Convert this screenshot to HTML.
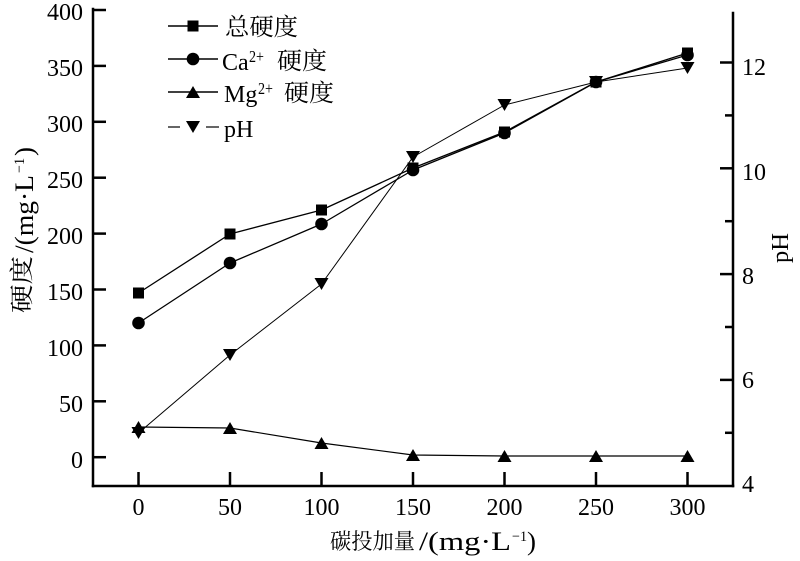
<!DOCTYPE html>
<html>
<head>
<meta charset="utf-8">
<style>
  html, body { margin: 0; padding: 0; background: #fff; }
  svg { display: block; }
  .lat { font-family: "Liberation Serif", "Noto Serif CJK SC", serif; fill: #000; }
  .cjk { font-family: "Liberation Serif", "Noto Serif CJK SC", serif; fill: #000; }
</style>
</head>
<body>
<svg width="800" height="561" viewBox="0 0 800 561" xmlns="http://www.w3.org/2000/svg">
  <rect x="0" y="0" width="800" height="561" fill="#fff"/>

  <!-- Axes -->
  <g stroke="#000" stroke-width="2.5" fill="none" stroke-linecap="square">
    <line x1="93" y1="9" x2="93" y2="486"/>
    <line x1="93" y1="486" x2="733" y2="486"/>
    <line x1="733" y1="13" x2="733" y2="486"/>
  </g>

  <!-- Left ticks -->
  <g stroke="#000" stroke-width="2.5">
    <line x1="93" y1="10" x2="106" y2="10"/>
    <line x1="93" y1="65.9" x2="106" y2="65.9"/>
    <line x1="93" y1="121.8" x2="106" y2="121.8"/>
    <line x1="93" y1="177.7" x2="106" y2="177.7"/>
    <line x1="93" y1="233.6" x2="106" y2="233.6"/>
    <line x1="93" y1="289.5" x2="106" y2="289.5"/>
    <line x1="93" y1="345.4" x2="106" y2="345.4"/>
    <line x1="93" y1="401.3" x2="106" y2="401.3"/>
    <line x1="93" y1="457.2" x2="106" y2="457.2"/>
  </g>
  <!-- Bottom ticks -->
  <g stroke="#000" stroke-width="2.5">
    <line x1="138.5" y1="486" x2="138.5" y2="472"/>
    <line x1="230" y1="486" x2="230" y2="472"/>
    <line x1="321.5" y1="486" x2="321.5" y2="472"/>
    <line x1="413" y1="486" x2="413" y2="472"/>
    <line x1="504.5" y1="486" x2="504.5" y2="472"/>
    <line x1="596" y1="486" x2="596" y2="472"/>
    <line x1="687.5" y1="486" x2="687.5" y2="472"/>
  </g>
  <!-- Right ticks -->
  <g stroke="#000" stroke-width="2.5">
    <line x1="720" y1="62.5" x2="733" y2="62.5"/>
    <line x1="725" y1="115.4" x2="733" y2="115.4"/>
    <line x1="720" y1="168.3" x2="733" y2="168.3"/>
    <line x1="725" y1="221.2" x2="733" y2="221.2"/>
    <line x1="720" y1="274.1" x2="733" y2="274.1"/>
    <line x1="725" y1="327" x2="733" y2="327"/>
    <line x1="720" y1="379.9" x2="733" y2="379.9"/>
    <line x1="725" y1="432.8" x2="733" y2="432.8"/>
  </g>

  <!-- Left tick labels -->
  <g class="lat" font-size="24" text-anchor="end">
    <text x="83" y="20">400</text>
    <text x="83" y="76">350</text>
    <text x="83" y="132">300</text>
    <text x="83" y="188">250</text>
    <text x="83" y="244">200</text>
    <text x="83" y="300">150</text>
    <text x="83" y="356">100</text>
    <text x="83" y="412">50</text>
    <text x="83" y="468">0</text>
  </g>
  <!-- Bottom tick labels -->
  <g class="lat" font-size="24" text-anchor="middle">
    <text x="138.5" y="515">0</text>
    <text x="230" y="515">50</text>
    <text x="321.5" y="515">100</text>
    <text x="413" y="515">150</text>
    <text x="504.5" y="515">200</text>
    <text x="596" y="515">250</text>
    <text x="687.5" y="515">300</text>
  </g>
  <!-- Right tick labels -->
  <g class="lat" font-size="24">
    <text x="742" y="75">12</text>
    <text x="742" y="180">10</text>
    <text x="742" y="284">8</text>
    <text x="742" y="388">6</text>
    <text x="742" y="492">4</text>
  </g>

  <!-- X axis label -->
  <text class="cjk" x="330" y="549" font-size="22" textLength="85" lengthAdjust="spacingAndGlyphs">碳投加量</text>
  <text class="lat" x="419" y="550" font-size="26" textLength="92" lengthAdjust="spacingAndGlyphs">/(mg·L</text>
  <text class="lat" x="512" y="541" font-size="15" textLength="15" lengthAdjust="spacingAndGlyphs">−1</text>
  <text class="lat" x="527" y="550" font-size="26" textLength="9" lengthAdjust="spacingAndGlyphs">)</text>

  <!-- Left Y axis label -->
  <g transform="translate(33,313) rotate(-90)">
    <text class="cjk" x="0" y="-3" font-size="24" textLength="57" lengthAdjust="spacingAndGlyphs">硬度</text>
    <text class="lat" x="60" y="0" font-size="26" textLength="78" lengthAdjust="spacingAndGlyphs">/(mg·L</text>
    <text class="lat" x="140" y="-9" font-size="15" textLength="15" lengthAdjust="spacingAndGlyphs">−1</text>
    <text class="lat" x="157" y="0" font-size="26" textLength="9" lengthAdjust="spacingAndGlyphs">)</text>
  </g>

  <!-- Right Y axis label -->
  <g transform="translate(788,263) rotate(-90)">
    <text class="lat" x="0" y="0" font-size="24" textLength="30" lengthAdjust="spacingAndGlyphs">pH</text>
  </g>

  <!-- Series lines -->
  <g fill="none" stroke="#000" stroke-linejoin="round">
    <polyline stroke-width="1.3" points="138.5,293 230,234 321.5,210 413,168 504.5,132 596,82 687.5,53"/>
    <polyline stroke-width="1.3" points="138.5,323 230,263 321.5,224 413,170 504.5,133 596,82 687.5,55"/>
    <polyline stroke-width="1.2" points="138.5,427 230,428 321.5,443 413,455 504.5,456 596,456 687.5,456"/>
    <polyline stroke-width="1" points="138.5,433 230,355 321.5,284 413,157 504.5,105 596,82 687.5,68"/>
  </g>

  <!-- Markers: total hardness squares -->
  <g fill="#000">
    <rect x="133" y="287.5" width="11" height="11"/>
    <rect x="224.5" y="228.5" width="11" height="11"/>
    <rect x="316" y="204.5" width="11" height="11"/>
    <rect x="407.5" y="162.5" width="11" height="11"/>
    <rect x="499" y="126.5" width="11" height="11"/>
    <rect x="590.5" y="76.5" width="11" height="11"/>
    <rect x="682" y="47.5" width="11" height="11"/>
  </g>
  <!-- Ca circles -->
  <g fill="#000">
    <circle cx="138.5" cy="323" r="6.3"/>
    <circle cx="230" cy="263" r="6.3"/>
    <circle cx="321.5" cy="224" r="6.3"/>
    <circle cx="413" cy="170" r="6.3"/>
    <circle cx="504.5" cy="133" r="6.3"/>
    <circle cx="596" cy="82" r="6.3"/>
    <circle cx="687.5" cy="55" r="6.3"/>
  </g>
  <!-- Mg up-triangles -->
  <g fill="#000">
    <polygon points="131.5,433 145.5,433 138.5,421"/>
    <polygon points="223,434 237,434 230,422"/>
    <polygon points="314.5,449 328.5,449 321.5,437"/>
    <polygon points="406,461 420,461 413,449"/>
    <polygon points="497.5,462 511.5,462 504.5,450"/>
    <polygon points="589,462 603,462 596,450"/>
    <polygon points="680.5,462 694.5,462 687.5,450"/>
  </g>
  <!-- pH down-triangles -->
  <g fill="#000">
    <polygon points="131.5,427 145.5,427 138.5,439"/>
    <polygon points="223,349 237,349 230,361"/>
    <polygon points="314.5,278 328.5,278 321.5,290"/>
    <polygon points="406,151 420,151 413,163"/>
    <polygon points="497.5,99 511.5,99 504.5,111"/>
    <polygon points="589,76 603,76 596,88"/>
    <polygon points="680.5,62 694.5,62 687.5,74"/>
  </g>

  <!-- Legend -->
  <g stroke="#000" fill="none">
    <line x1="168" y1="26" x2="218" y2="26" stroke-width="1.5"/>
    <line x1="168" y1="59" x2="218" y2="59" stroke-width="1.5"/>
    <line x1="168" y1="92" x2="218" y2="92" stroke-width="1.5"/>
    <line x1="168" y1="127" x2="180" y2="127" stroke-width="1.2"/>
    <line x1="206" y1="127" x2="219" y2="127" stroke-width="1.2"/>
  </g>
  <g fill="#000">
    <rect x="187.5" y="20.5" width="11" height="11"/>
    <circle cx="193" cy="59" r="6.3"/>
    <polygon points="186,98 200,98 193,86"/>
    <polygon points="186,121 200,121 193,133"/>
  </g>
  <text class="cjk" x="225" y="35" font-size="24" textLength="73" lengthAdjust="spacingAndGlyphs">总硬度</text>

  <text class="lat" x="222" y="70" font-size="24">Ca</text>
  <text class="lat" x="249" y="62" font-size="17" textLength="15" lengthAdjust="spacingAndGlyphs">2+</text>
  <text class="cjk" x="277" y="69" font-size="24" textLength="50" lengthAdjust="spacingAndGlyphs">硬度</text>

  <text class="lat" x="224" y="102" font-size="24">Mg</text>
  <text class="lat" x="258" y="94" font-size="17" textLength="15" lengthAdjust="spacingAndGlyphs">2+</text>
  <text class="cjk" x="284" y="101" font-size="24" textLength="50" lengthAdjust="spacingAndGlyphs">硬度</text>

  <text class="lat" x="224" y="137" font-size="24">pH</text>
</svg>
</body>
</html>
